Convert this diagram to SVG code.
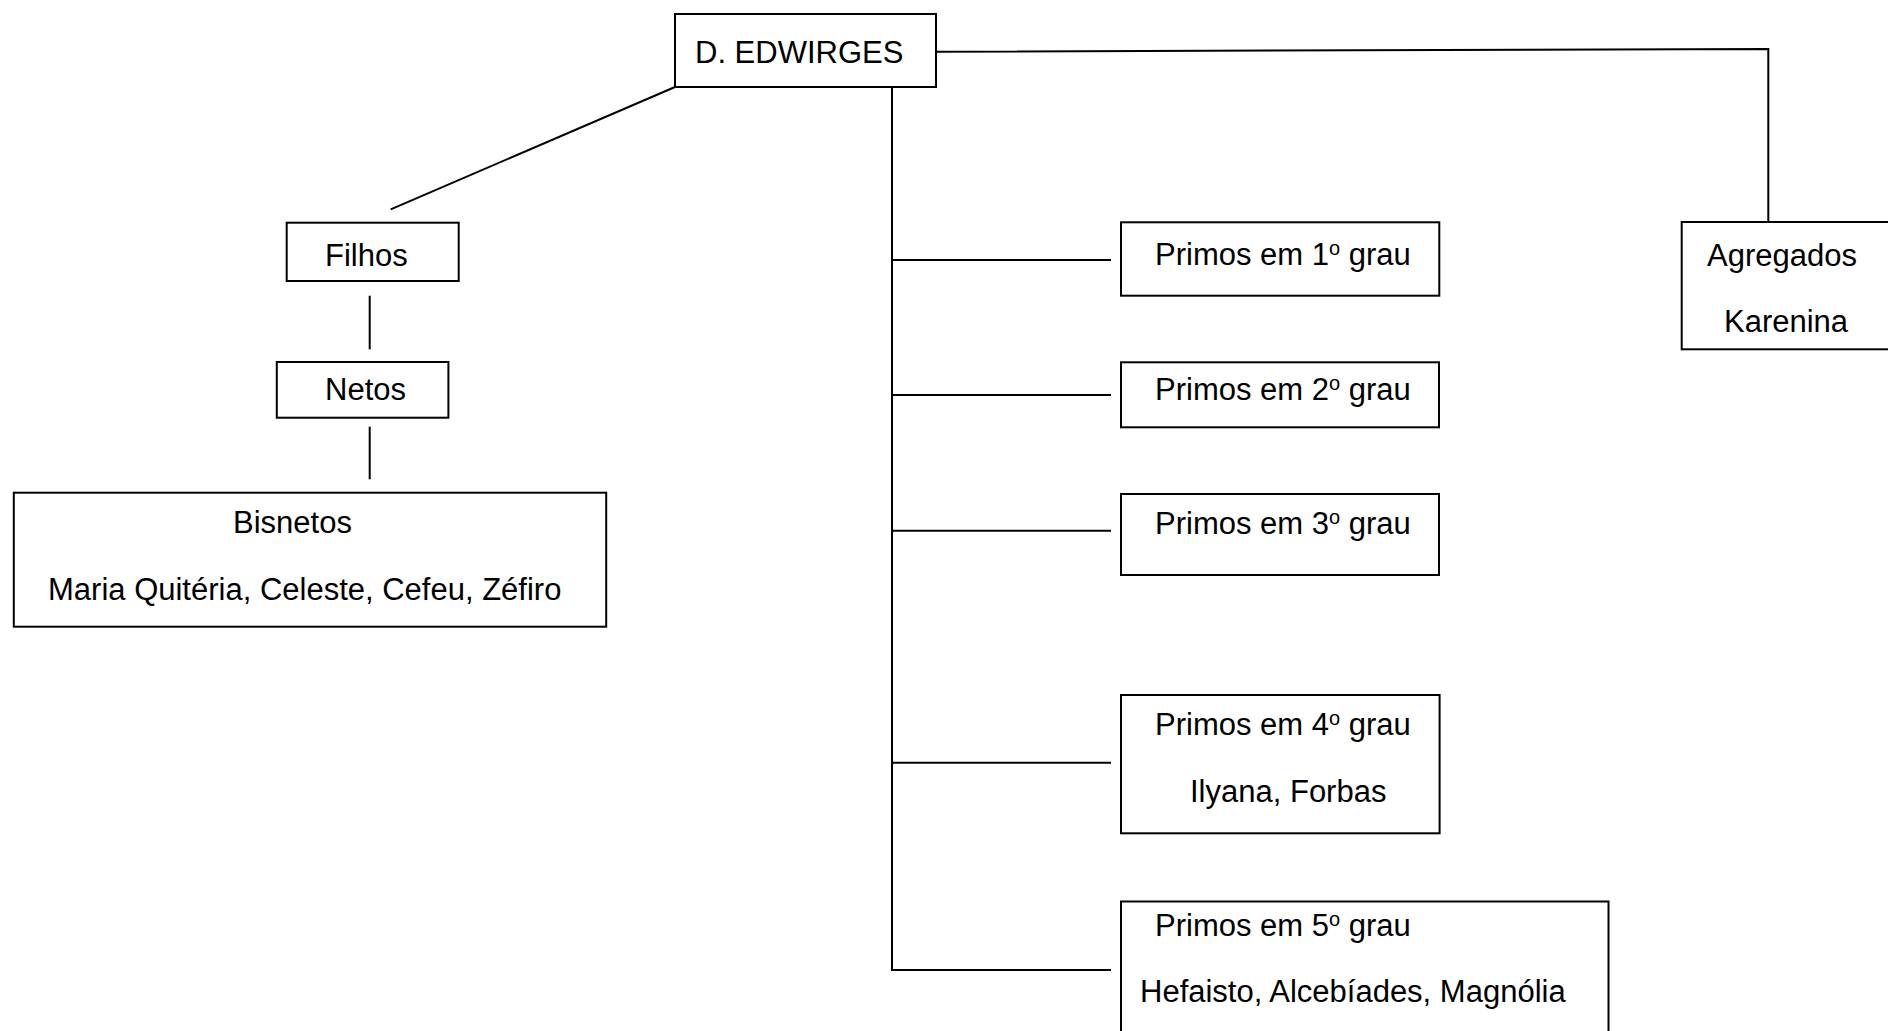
<svg xmlns="http://www.w3.org/2000/svg" width="1888" height="1031" viewBox="0 0 1888 1031">
<style>
  .box { fill: #ffffff; stroke: #000000; stroke-width: 2; }
  .ln { fill: none; stroke: #000000; stroke-width: 2; }
  text { font-family: "Liberation Sans", Arial, sans-serif; font-size: 31px; fill: #000000; }
  .sup { font-size: 20px; }
</style>
<rect x="0" y="0" width="1888" height="1031" fill="#ffffff"/>
<g id="connectors">
  <line class="ln" x1="675" y1="87" x2="390.7" y2="209.3"/>
  <line class="ln" x1="369.7" y1="295.7" x2="369.7" y2="349.3"/>
  <line class="ln" x1="369.7" y1="426.7" x2="369.7" y2="479.3"/>
  <polyline class="ln" points="936,51.7 1768.3,49 1768.3,222"/>
  <line class="ln" x1="892" y1="87" x2="892" y2="971"/>
  <line class="ln" x1="892" y1="260" x2="1111" y2="260"/>
  <line class="ln" x1="892" y1="395" x2="1111" y2="395"/>
  <line class="ln" x1="892" y1="530.7" x2="1111" y2="530.7"/>
  <line class="ln" x1="892" y1="762.7" x2="1111" y2="762.7"/>
  <line class="ln" x1="892" y1="970" x2="1111" y2="970"/>
</g>
<g id="edwirges">
  <rect class="box" x="675" y="14" width="261" height="73"/>
  <text x="695" y="63">D. EDWIRGES</text>
</g>
<g id="filhos">
  <rect class="box" x="286.7" y="222.7" width="172" height="58.3"/>
  <text x="325" y="265.7">Filhos</text>
</g>
<g id="netos">
  <rect class="box" x="276.8" y="362" width="171.6" height="55.7"/>
  <text x="325" y="400">Netos</text>
</g>
<g id="bisnetos">
  <rect class="box" x="13.8" y="492.7" width="592.4" height="134"/>
  <text x="233" y="533.3">Bisnetos</text>
  <text x="48" y="600">Maria Quitéria, Celeste, Cefeu, Zéfiro</text>
</g>
<g id="primos1">
  <rect class="box" x="1121" y="222.3" width="318.3" height="73.4"/>
  <text x="1155" y="265">Primos em 1<tspan class="sup" dy="-10">o</tspan><tspan dy="10"> grau</tspan></text>
</g>
<g id="primos2">
  <rect class="box" x="1121" y="362.3" width="318" height="65"/>
  <text x="1155" y="400">Primos em 2<tspan class="sup" dy="-10">o</tspan><tspan dy="10"> grau</tspan></text>
</g>
<g id="primos3">
  <rect class="box" x="1121" y="494" width="318" height="81"/>
  <text x="1155" y="534">Primos em 3<tspan class="sup" dy="-10">o</tspan><tspan dy="10"> grau</tspan></text>
</g>
<g id="primos4">
  <rect class="box" x="1121" y="695" width="318.6" height="138.3"/>
  <text x="1155" y="735">Primos em 4<tspan class="sup" dy="-10">o</tspan><tspan dy="10"> grau</tspan></text>
  <text x="1190" y="801.7">Ilyana, Forbas</text>
</g>
<g id="primos5">
  <rect class="box" x="1121" y="901.5" width="487.5" height="140"/>
  <text x="1155" y="935.5">Primos em 5<tspan class="sup" dy="-10">o</tspan><tspan dy="10"> grau</tspan></text>
  <text x="1140" y="1002">Hefaisto, Alcebíades, Magnólia</text>
</g>
<g id="agregados">
  <rect class="box" x="1681.7" y="222" width="220" height="127.3"/>
  <text x="1707" y="265.7">Agregados</text>
  <text x="1724" y="331.7">Karenina</text>
</g>
</svg>
